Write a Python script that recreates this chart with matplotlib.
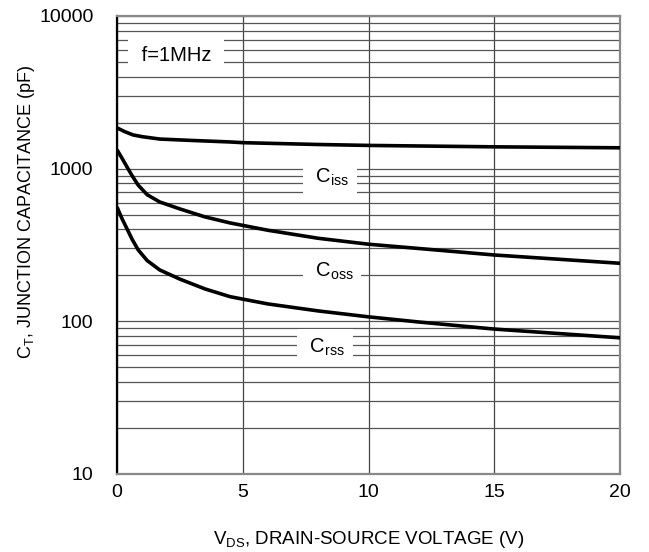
import numpy as np
import matplotlib
matplotlib.use("Agg")
import matplotlib.pyplot as plt
from matplotlib.ticker import FixedLocator, NullFormatter

plt.rcParams['font.family'] = ['Liberation Sans', 'DejaVu Sans']
plt.rcParams['mathtext.fontset'] = 'custom'
plt.rcParams['mathtext.rm'] = 'Liberation Sans'

# values (V, pF)
v_iss = [0, 0.3, 0.64, 1, 1.7, 3, 4.5, 5, 8, 10, 15, 20]
c_iss = [1850, 1750, 1663, 1620, 1563, 1530, 1496, 1480, 1440, 1420, 1390, 1370]

v_oss = [0, 0.2, 0.4, 0.6, 0.84, 1.2, 1.7, 2.5, 3.5, 4.5, 6, 8, 10, 12, 15, 20]
c_oss = [1330, 1170, 1025, 900, 781, 675, 605, 545, 483, 441, 395, 350, 320, 300, 272, 240]

v_rss = [0, 0.2, 0.4, 0.6, 0.84, 1.2, 1.7, 2.5, 3.5, 4.5, 6, 8, 10, 12, 15, 20]
c_rss = [561, 470, 403, 345, 294, 250, 217, 189, 163, 145, 130, 117, 107, 99, 89, 78]

x_ticks = [0, 5, 10, 15, 20]
y_ticks = [10, 100, 1000, 10000]

fig = plt.figure(figsize=(6.49, 5.52), dpi=100)
ax = fig.add_axes([117/649, 1 - 474/552, 503/649, 458/552])

ax.set_yscale('log')
ax.set_xlim(0, 20)
ax.set_ylim(10, 10000)

# grid: every minor log step, vertical lines at the major x ticks
minor = [m * 10**e for e in range(1, 4) for m in range(2, 10)]
ax.yaxis.set_minor_locator(FixedLocator(minor))
ax.yaxis.set_minor_formatter(NullFormatter())
ax.set_yticks(y_ticks)
ax.set_yticklabels([str(t) for t in y_ticks])
ax.set_xticks(x_ticks)
ax.grid(True, which='both', axis='y', color='#555555', lw=0.9)
ax.grid(True, which='major', axis='x', color='#444444', lw=0.9)
ax.tick_params(which='both', length=0, labelsize=14)
ax.tick_params(axis='x', pad=7)
ax.tick_params(axis='y', pad=17)

for s in ['top', 'right', 'bottom']:
    ax.spines[s].set_color('#888888')
    ax.spines[s].set_linewidth(1.6)
ax.spines['left'].set_color('black')
ax.spines['left'].set_linewidth(1.6)

for v, c in [(v_iss, c_iss), (v_oss, c_oss), (v_rss, c_rss)]:
    ax.plot(v, c, color='black', lw=2.6, solid_capstyle='butt', zorder=3)

box = dict(facecolor='white', edgecolor='none', boxstyle='square,pad=0.35')
ax.text(2.35, 5550, ' f=1MHz ', fontsize=14.5, ha='center', va='center', bbox=box, zorder=4)
ax.text(8.47, 883, r' C$\mathregular{_{iss}}$ ', fontsize=14.5, ha='center', va='center', bbox=box, zorder=4)
ax.text(8.55, 211, r' C$\mathregular{_{oss}}$ ', fontsize=14.5, ha='center', va='center', bbox=box, zorder=4)
ax.text(8.27, 68, r' C$\mathregular{_{rss}}$ ', fontsize=14.5, ha='center', va='center', bbox=box, zorder=4)

ax.set_xlabel(r'V$\mathregular{_{DS}}$, DRAIN-SOURCE VOLTAGE (V)', fontsize=13.5, labelpad=20)
ax.set_ylabel(r'C$\mathregular{_{T}}$, JUNCTION CAPACITANCE (pF)', fontsize=13)
ax.yaxis.set_label_coords(-0.159, 0.572)

fig.savefig('out.png', dpi=100)
